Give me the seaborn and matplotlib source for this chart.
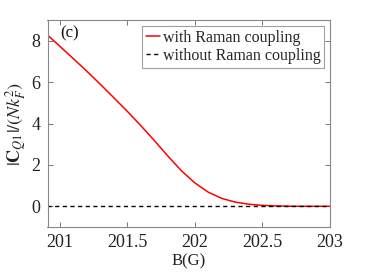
import numpy as np
import pandas as pd
import seaborn as sns
import matplotlib
matplotlib.use("Agg")
import matplotlib.pyplot as plt

B = [200.91, 201.0, 201.1, 201.2, 201.3, 201.4, 201.5, 201.6, 201.7, 201.8,
     201.9, 202.0, 202.1, 202.2, 202.3, 202.4, 202.5, 202.6, 202.7, 202.8, 203.0]
C_with = [8.27, 7.74, 7.14, 6.53, 5.9, 5.25, 4.59, 3.9, 3.18, 2.43,
          1.72, 1.13, 0.68, 0.38, 0.2, 0.1, 0.045, 0.018, 0.005, 0.0, 0.0]
C_without = [0.0] * len(B)
xticks = [201, 201.5, 202, 202.5, 203]
xticklabels = ["201", "201.5", "202", "202.5", "203"]
yticks = [0, 2, 4, 6, 8]

sns.set_theme(style="ticks")
plt.rcParams['font.family'] = ['Liberation Serif', 'DejaVu Serif']
plt.rcParams['mathtext.fontset'] = 'stix'

fig = plt.figure(figsize=(3.65, 2.74), dpi=100)
ax = fig.add_axes([47.5/365, 1 - 227/274, (330 - 47.5)/365, (227 - 20)/274])

df = pd.DataFrame({"B": B, "with": C_with, "without": C_without})
sns.lineplot(data=df, x="B", y="with", ax=ax, color="#ff0000", lw=1.1,
             label="with Raman coupling")
sns.lineplot(data=df, x="B", y="without", ax=ax, color="black", lw=1.0,
             linestyle=(0, (3, 2.5)), label="without Raman coupling")

ax.set_xlim(200.91, 203)
ax.set_ylim(-1, 9)
ax.set_xticks(xticks)
ax.set_xticklabels(xticklabels)
ax.set_yticks(yticks)
for s in ax.spines.values():
    s.set_visible(True)
    s.set_color("#888888")
    s.set_linewidth(0.8)
ax.tick_params(direction="in", length=3.5, width=0.7, color="#777777",
               labelsize=13, labelcolor="#222222", top=True, right=True,
               bottom=True, left=True, pad=5)
ax.set_xlabel("B(G)", fontsize=12, color="#222222", labelpad=2)
ax.set_ylabel(r"$|\mathbf{C}_{Q1}|/(Nk_F^2)$", fontsize=13, color="#222222", labelpad=2)
ax.text(0.045, 0.975, "(c)", transform=ax.transAxes, ha="left", va="top",
        fontsize=12, color="#111111")
leg = ax.legend(loc="upper right", fontsize=11.5, frameon=True, fancybox=False,
                edgecolor="#888888", handlelength=0.9, handletextpad=0.15,
                borderpad=0.25, labelspacing=0.15, borderaxespad=0.35)
leg.get_frame().set_linewidth(0.8)
fig.savefig("out.png", dpi=100)
